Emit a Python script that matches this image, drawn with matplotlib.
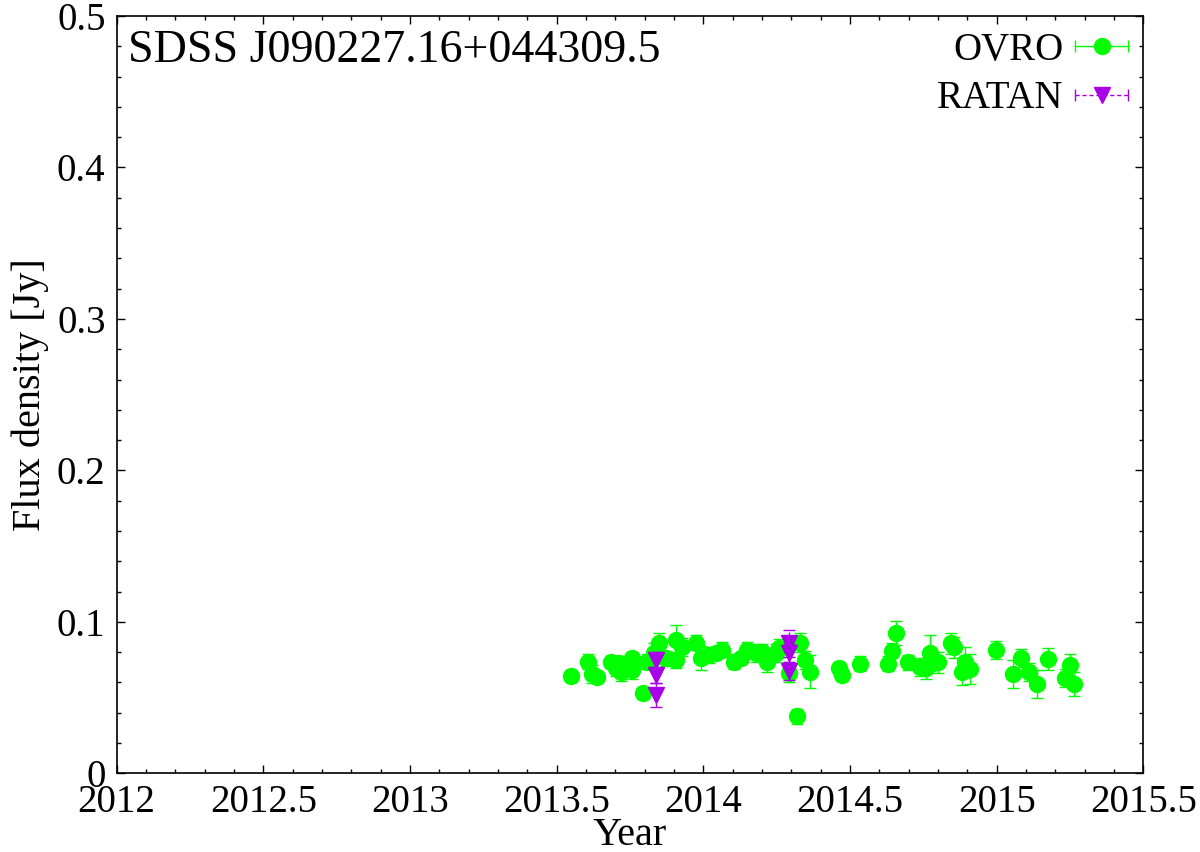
import numpy as np
import matplotlib
matplotlib.use("Agg")
import matplotlib.pyplot as plt
from matplotlib.lines import Line2D
from matplotlib.legend_handler import HandlerLine2D, HandlerTuple
from matplotlib.ticker import MultipleLocator

# DATA

source_name = "SDSS J090227.16+044309.5"

ovro_year = np.array([
    2013.548, 2013.608, 2013.620, 2013.639, 2013.684, 2013.701, 2013.713,
    2013.718, 2013.741, 2013.758, 2013.758, 2013.795, 2013.809, 2013.832,
    2013.849, 2013.872, 2013.906, 2013.906, 2013.926, 2013.974, 2013.991,
    2014.019, 2014.042, 2014.064, 2014.104, 2014.127, 2014.150, 2014.178,
    2014.201, 2014.218, 2014.246, 2014.257, 2014.291, 2014.331, 2014.320,
    2014.348, 2014.365, 2014.462, 2014.471, 2014.535, 2014.630, 2014.643,
    2014.658, 2014.697, 2014.740, 2014.759, 2014.774, 2014.799, 2014.844,
    2014.856, 2014.881, 2014.893, 2014.908, 2014.999, 2015.054, 2015.082,
    2015.111, 2015.136, 2015.174, 2015.234, 2015.251, 2015.265
])

ovro_flux = np.array([
    0.0644, 0.0737, 0.0656, 0.0638, 0.0737, 0.0693, 0.0726,
    0.0671, 0.0704, 0.0760, 0.0682, 0.0528, 0.0737, 0.0793,
    0.0863, 0.0760, 0.0881, 0.0748, 0.0836, 0.0863, 0.0760,
    0.0781, 0.0793, 0.0815, 0.0737, 0.0760, 0.0815, 0.0793,
    0.0803, 0.0737, 0.0793, 0.0826, 0.0664, 0.0863, 0.0377,
    0.0748, 0.0671, 0.0693, 0.0649, 0.0722, 0.0722, 0.0810,
    0.0925, 0.0733, 0.0700, 0.0693, 0.0793, 0.0733, 0.0859,
    0.0832, 0.0671, 0.0737, 0.0687, 0.0815, 0.0656, 0.0760,
    0.0671, 0.0589, 0.0755, 0.0627, 0.0715, 0.0587
])

ovro_err = np.array([
    0.004, 0.005, 0.006, 0.004, 0.004, 0.005, 0.005,
    0.006, 0.005, 0.004, 0.006, 0.004, 0.005, 0.007,
    0.006, 0.005, 0.010, 0.005, 0.006, 0.005, 0.008,
    0.005, 0.004, 0.005, 0.005, 0.004, 0.005, 0.006,
    0.005, 0.007, 0.006, 0.006, 0.006, 0.006, 0.005,
    0.006, 0.011, 0.004, 0.004, 0.005, 0.005, 0.005,
    0.008, 0.005, 0.006, 0.007, 0.012, 0.007, 0.007,
    0.007, 0.009, 0.010, 0.010, 0.006, 0.009, 0.006,
    0.006, 0.009, 0.007, 0.006, 0.007, 0.008
])

ratan_year = np.array([2013.840, 2013.840, 2013.840, 2014.291, 2014.291, 2014.291])
ratan_flux = np.array([0.0748, 0.0649, 0.0517, 0.0859, 0.0793, 0.0675])
ratan_err = np.array([0.005, 0.005, 0.008, 0.009, 0.006, 0.006])

ovro_color = "#00ff00"
ratan_color = "#aa00e8"

# PLOT

plt.rcParams["font.family"] = ["Liberation Serif", "DejaVu Serif"]
plt.rcParams["mathtext.fontset"] = "stix"

fig = plt.figure(figsize=(12, 8.52), dpi=100)
ax = fig.add_axes([0.0972, 0.0924, 0.8556, 0.8888])

ax.errorbar(
    ovro_year, ovro_flux, yerr=ovro_err,
    fmt="o", color=ovro_color, ms=11.5, elinewidth=1.0,
    capsize=4, capthick=1.0, zorder=2
)

ratan = ax.errorbar(
    ratan_year, ratan_flux, yerr=ratan_err,
    fmt="v", color=ratan_color, ms=11.5, elinewidth=1.0,
    capsize=4, capthick=1.0, zorder=3
)
ratan[2][0].set_linestyle((0, (3, 2)))

ax.set_xlim(2012, 2015.5)
ax.set_ylim(0, 0.5)

ax.xaxis.set_minor_locator(MultipleLocator(0.1))
ax.yaxis.set_minor_locator(MultipleLocator(0.02))

ax.set_xticks([2012, 2012.5, 2013, 2013.5, 2014, 2014.5, 2015, 2015.5])
ax.set_xticklabels(["2012", "2012.5", "2013", "2013.5", "2014", "2014.5", "2015", "2015.5"])
ax.set_yticks([0, 0.1, 0.2, 0.3, 0.4, 0.5])
ax.set_yticklabels(["0", "0.1", "0.2", "0.3", "0.4", "0.5"])

ax.tick_params(which="both", direction="in", top=True, right=True,
               labelsize=28, width=1.0)
ax.tick_params(which="major", length=6, pad=8)
ax.tick_params(which="minor", length=3)
ax.tick_params(axis="x", pad=8)

for spine in ax.spines.values():
    spine.set_linewidth(1.2)

ax.set_xlabel("Year", fontsize=29, labelpad=-3)
ax.set_ylabel("Flux density [Jy]", fontsize=29, labelpad=6)

ax.text(0.011, 0.982, source_name, transform=ax.transAxes,
        fontsize=33, ha="left", va="top")

# LEGEND

ovro_caps = Line2D([], [], color=ovro_color, lw=1.0, marker="|", ms=8)
ovro_dot = Line2D([], [], color=ovro_color, ls="none", marker="o", ms=11.5)
ratan_caps = Line2D([], [], color=ratan_color, lw=1.0, ls=(0, (3, 2)),
                    marker="|", ms=8)
ratan_dot = Line2D([], [], color=ratan_color, ls="none", marker="v", ms=11.5)

ax.legend(
    [(ovro_caps, ovro_dot), (ratan_caps, ratan_dot)],
    ["OVRO", "RATAN"],
    handler_map={
        ovro_caps: HandlerLine2D(numpoints=2, marker_pad=0),
        ratan_caps: HandlerLine2D(numpoints=2, marker_pad=0),
        ovro_dot: HandlerLine2D(numpoints=1),
        ratan_dot: HandlerLine2D(numpoints=1),
        tuple: HandlerTuple(ndivide=1),
    },
    loc="upper right", frameon=False, fontsize=28,
    markerfirst=False, handlelength=1.35, handletextpad=0.3,
    labelspacing=0.3, borderpad=0.2, borderaxespad=0.2
)

fig.savefig("out.png", dpi=100)
